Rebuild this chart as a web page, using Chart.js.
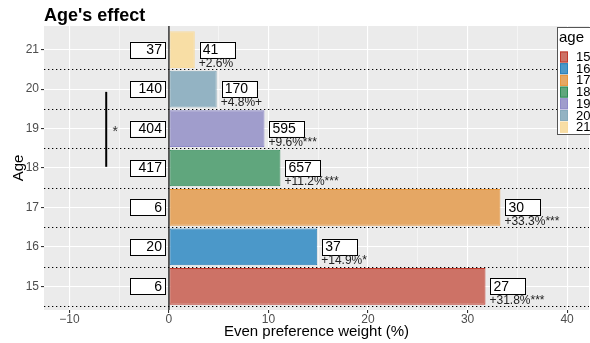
<!DOCTYPE html>
<html>
<head>
<meta charset="utf-8">
<script src="https://cdn.jsdelivr.net/npm/chart.js@4"></script>
<style>
  body { margin: 0; background: #fff; }
  #wrap { width: 590px; height: 343px; position: relative; }
</style>
</head>
<body>
<div id="wrap"><canvas id="chart"></canvas></div>
<script>
// datos
const ages = [15, 16, 17, 18, 19, 20, 21];
const weights = [31.8, 14.9, 33.3, 11.2, 9.6, 4.8, 2.6];      // Even preference weight (%)
const countsBase = [6, 20, 6, 417, 404, 140, 37];              // caja a la izquierda
const countsEven = [27, 37, 30, 657, 595, 170, 41];            // caja a la derecha
const effectLabels = ['+31.8%***', '+14.9%*', '+33.3%***', '+11.2%***', '+9.6%***', '+4.8%+', '+2.6%'];
const xTicks = [-10, 0, 10, 20, 30, 40];

// colores por edad
const fills = ['#cd7266', '#4b98c9', '#e5a764', '#60a67d', '#a09dcc', '#93b3c3', '#f8dea5'];
const borders = ['#c0392b', '#2a80b9', '#e8963c', '#2e8b57', '#8f8ac9', '#86aabb', '#f8dba0'];

const FONT = '"Liberation Sans", Arial, sans-serif';

// fondo gris, lineas punteadas, linea cero, etiquetas, corchete y leyenda
const decorPlugin = {
    id: 'decor',
    beforeDraw(chart) {
        const { ctx, chartArea: a } = chart;
        ctx.save();
        ctx.fillStyle = '#ebebeb';
        ctx.fillRect(a.left, a.top, a.right - a.left, a.bottom - a.top);
        ctx.restore();
    },
    afterDatasetsDraw(chart) {
        const { ctx, chartArea: a } = chart;
        const xs = chart.scales.x, ys = chart.scales.y;
        ctx.save();

        // lineas punteadas entre categorias
        ctx.strokeStyle = '#000';
        ctx.lineWidth = 1.2;
        ctx.setLineDash([1.3, 2.7]);
        ages.forEach(age => {
            const y = Math.round(ys.getPixelForValue(age - 0.5)) + 0.5;
            ctx.beginPath();
            ctx.moveTo(a.left, y);
            ctx.lineTo(a.right, y);
            ctx.stroke();
        });
        ctx.setLineDash([]);

        // linea vertical en cero
        const x0 = xs.getPixelForValue(0);
        ctx.lineWidth = 1.2;
        ctx.beginPath();
        ctx.moveTo(x0, a.top);
        ctx.lineTo(x0, a.bottom);
        ctx.stroke();

        // cajas con conteos y textos de efecto
        ctx.textBaseline = 'middle';
        ages.forEach((age, i) => {
            const yc = ys.getPixelForValue(age);
            // caja izquierda
            const lr = xs.getPixelForValue(-0.4);
            ctx.fillStyle = '#fff';
            ctx.fillRect(lr - 35, yc - 8, 35, 16);
            ctx.strokeStyle = '#000';
            ctx.lineWidth = 1;
            ctx.strokeRect(Math.round(lr - 35) + 0.5, Math.round(yc - 8) + 0.5, 35, 16);
            ctx.fillStyle = '#000';
            ctx.font = '14px ' + FONT;
            ctx.textAlign = 'right';
            ctx.fillText(String(countsBase[i]), lr - 3, yc + 0.5);

            // caja derecha
            const bx = xs.getPixelForValue(weights[i]) + 5;
            ctx.fillStyle = '#fff';
            ctx.fillRect(bx, yc - 8, 35, 16);
            ctx.strokeRect(Math.round(bx) + 0.5, Math.round(yc - 8) + 0.5, 35, 16);
            ctx.fillStyle = '#000';
            ctx.textAlign = 'left';
            ctx.fillText(String(countsEven[i]), bx + 3, yc + 0.5);

            // texto de efecto
            ctx.font = '12px ' + FONT;
            ctx.fillStyle = '#222';
            ctx.fillText(effectLabels[i], bx - 1, yc + 14);
        });

        // corchete de significancia
        const bxp = xs.getPixelForValue(-6.3);
        ctx.strokeStyle = '#000';
        ctx.lineWidth = 2;
        ctx.beginPath();
        ctx.moveTo(bxp, ys.getPixelForValue(19.93));
        ctx.lineTo(bxp, ys.getPixelForValue(18.03));
        ctx.stroke();
        ctx.fillStyle = '#333';
        ctx.font = '14px ' + FONT;
        ctx.textAlign = 'center';
        ctx.fillText('*', xs.getPixelForValue(-5.4), ys.getPixelForValue(18.9));

        // leyenda
        const lx = 557, ly = 27;
        ctx.fillStyle = '#fff';
        ctx.fillRect(lx, ly, 40, 107);
        ctx.strokeStyle = '#555';
        ctx.lineWidth = 1;
        ctx.strokeRect(lx + 0.5, ly + 0.5, 40, 107);
        ctx.fillStyle = '#000';
        ctx.textAlign = 'left';
        ctx.font = '15px ' + FONT;
        ctx.fillText('age', lx + 2, ly + 11);
        ctx.font = '13px ' + FONT;
        ages.forEach((age, i) => {
            const ky = ly + 30 + i * 11.7;
            ctx.fillStyle = fills[i];
            ctx.fillRect(lx + 3, ky - 5.5, 8, 11);
            ctx.strokeStyle = borders[i];
            ctx.strokeRect(lx + 3.5, ky - 5, 7, 10);
            ctx.fillStyle = '#000';
            ctx.fillText(String(age), lx + 19, ky + 0.5);
        });

        // titulo
        ctx.font = 'bold 18px ' + FONT;
        ctx.textBaseline = 'alphabetic';
        ctx.fillText("Age's effect", 44, 21);
        ctx.restore();
    }
};

const ctx = document.getElementById('chart').getContext('2d');
new Chart(ctx, {
    type: 'bar',
    data: {
        datasets: [{
            data: ages.map((age, i) => ({ x: weights[i], y: age })),
            backgroundColor: fills,
            borderColor: borders,
            borderWidth: 1,
            borderSkipped: false,
            categoryPercentage: 1,
            barPercentage: 0.93
        }]
    },
    options: {
        indexAxis: 'y',
        responsive: true,
        maintainAspectRatio: false,
        animation: false,
        layout: { padding: { top: 26, right: 1, left: 0, bottom: 0 } },
        plugins: {
            legend: { display: false },
            tooltip: { enabled: false }
        },
        scales: {
            x: {
                type: 'linear',
                min: -12.55,
                max: 42.2,
                border: { display: false },
                afterFit: s => { s.height = 33; },
                grid: {
                    color: '#ffffff',
                    lineWidth: c => (c.tick && c.tick.value % 10 === 0) ? 1.1 : 0.5,
                    tickColor: c => (c.tick && c.tick.value % 10 === 0) ? '#333' : 'rgba(0,0,0,0)',
                    tickLength: 3
                },
                ticks: {
                    stepSize: 5,
                    includeBounds: false,
                    maxRotation: 0,
                    autoSkip: false,
                    padding: -1,
                    color: '#4d4d4d',
                    font: { family: FONT, size: 12 },
                    callback: v => xTicks.includes(v) ? (v < 0 ? '\u2212' + (-v) : String(v)) : ''
                },
                title: {
                    display: true,
                    text: 'Even preference weight (%)',
                    color: '#000',
                    font: { family: FONT, size: 15 },
                    padding: { top: 0, bottom: 2 }
                }
            },
            y: {
                type: 'linear',
                offset: false,
                min: 14.4,
                max: 21.6,
                border: { display: false },
                afterFit: s => { s.width = 44; },
                grid: {
                    offset: false,
                    color: '#ffffff',
                    lineWidth: 1.1,
                    tickColor: '#333',
                    tickLength: 3
                },
                ticks: {
                    stepSize: 1,
                    includeBounds: false,
                    padding: 2,
                    color: '#4d4d4d',
                    font: { family: FONT, size: 12 }
                },
                title: {
                    display: true,
                    text: 'Age',
                    color: '#000',
                    font: { family: FONT, size: 15 },
                    padding: { top: 10, bottom: 4 }
                }
            }
        }
    },
    plugins: [decorPlugin]
});
</script>
</body>
</html>
